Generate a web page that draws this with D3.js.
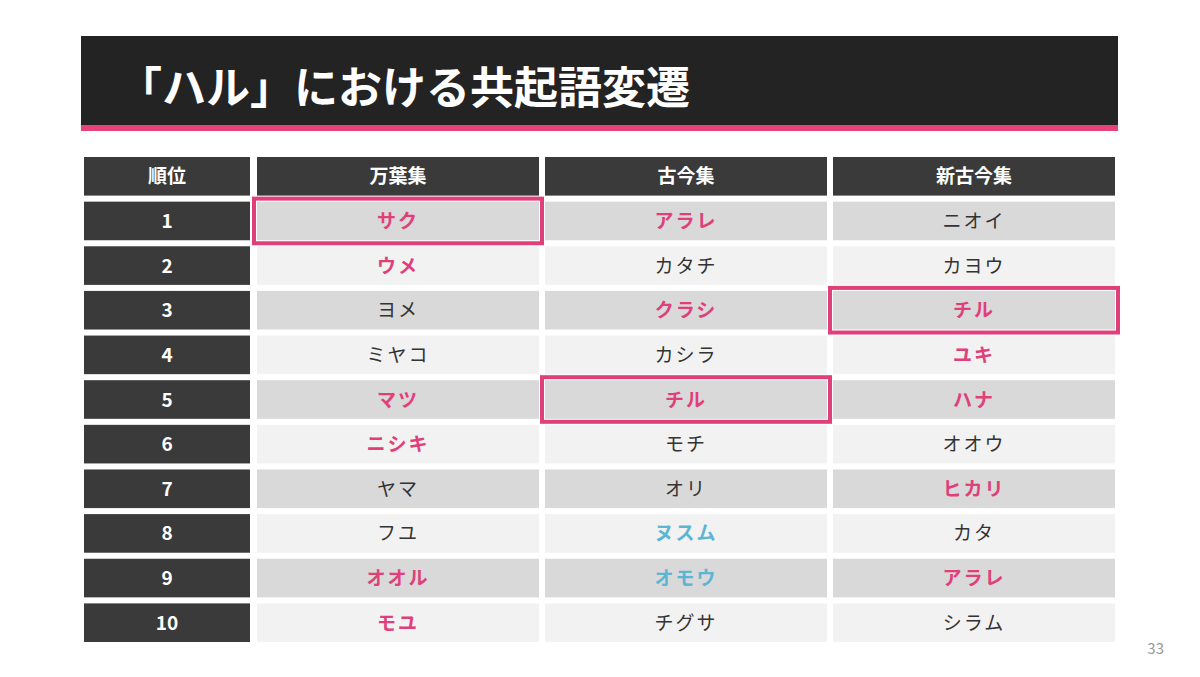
<!DOCTYPE html><html><head><meta charset="utf-8"><script src="https://cdn.jsdelivr.net/npm/d3@7"></script>
<style>body{margin:0;background:#fff}</style></head><body><svg id="c" width="1200" height="677"></svg>
<script>
const title="「ハル」における共起語変遷";
const headers=["順位","万葉集","古今集","新古今集"];
const ranks=["1","2","3","4","5","6","7","8","9","10"];
const manyo=["サク","ウメ","ヨメ","ミヤコ","マツ","ニシキ","ヤマ","フユ","オオル","モユ"];
const kokin=["アラレ","カタチ","クラシ","カシラ","チル","モチ","オリ","ヌスム","オモウ","チグサ"];
const shinkokin=["ニオイ","カヨウ","チル","ユキ","ハナ","オオウ","ヒカリ","カタ","アラレ","シラム"];
// style: 0 normal, 1 pink, 2 blue
const manyoS=[1,1,0,0,1,1,0,0,1,1];
const kokinS=[1,0,1,0,1,0,0,2,2,0];
const shinS=[0,0,1,1,1,0,1,0,1,0];
const boxes=[[1,0],[3,2],[2,4]]; // [column, row]
const pageNum="33";

const svg=d3.select("#c");
const F="'Noto Sans CJK JP',sans-serif";
svg.append("rect").attr("x",81).attr("y",36).attr("width",1037).attr("height",90).attr("fill","#232323");
svg.append("rect").attr("x",81).attr("y",125).attr("width",1037).attr("height",6).attr("fill","#e5437a");
svg.append("text").attr("x",118).attr("y",104).attr("fill","#fff").attr("font-family",F).attr("font-weight",700).attr("font-size",44).text(title);
svg.append("text").attr("x",1164).attr("y",654).attr("text-anchor","end").attr("fill","#999").attr("font-family",F).attr("font-size",15).text(pageNum);

const colX=[84,257,545,833], colW=[166,282,282,282];
const y=d3.scaleBand().domain(d3.range(11)).range([157,642]).paddingInner(0.135);
const cols=[ranks,manyo,kokin,shinkokin], styles=[null,manyoS,kokinS,shinS];
const colorFor=s=>s===1?"#e0407a":s===2?"#5bb5d3":"#333";
headers.forEach((h,c)=>{
  svg.append("rect").attr("x",colX[c]).attr("y",y(0)).attr("width",colW[c]).attr("height",y.bandwidth()).attr("fill","#3a3a3a");
  svg.append("text").attr("x",colX[c]+colW[c]/2).attr("y",y(0)+y.bandwidth()/2+7).attr("text-anchor","middle").attr("fill","#fff").attr("font-family",F).attr("font-weight",700).attr("font-size",19).text(h);
});
d3.range(10).forEach(r=>{
  cols.forEach((col,c)=>{
    const fill=c===0?"#3a3a3a":(r%2===0?"#d9d9d9":"#f2f2f2");
    svg.append("rect").attr("x",colX[c]).attr("y",y(r+1)).attr("width",colW[c]).attr("height",y.bandwidth()).attr("fill",fill);
    const s=c===0?null:styles[c][r];
    svg.append("text").attr("x",colX[c]+colW[c]/2).attr("y",y(r+1)+y.bandwidth()/2+7).attr("text-anchor","middle")
      .attr("fill",c===0?"#fff":colorFor(s)).attr("font-family",F).attr("font-weight",(c===0||s)?700:400).attr("font-size",19).attr("letter-spacing",c===0?0:2).text(col[r]);
  });
});
boxes.forEach(([c,r])=>{
  svg.append("rect").attr("x",colX[c]-3).attr("y",y(r+1)-3).attr("width",colW[c]+6).attr("height",y.bandwidth()+6)
    .attr("fill","none").attr("stroke","#e0407a").attr("stroke-width",4);
});
</script></body></html>
